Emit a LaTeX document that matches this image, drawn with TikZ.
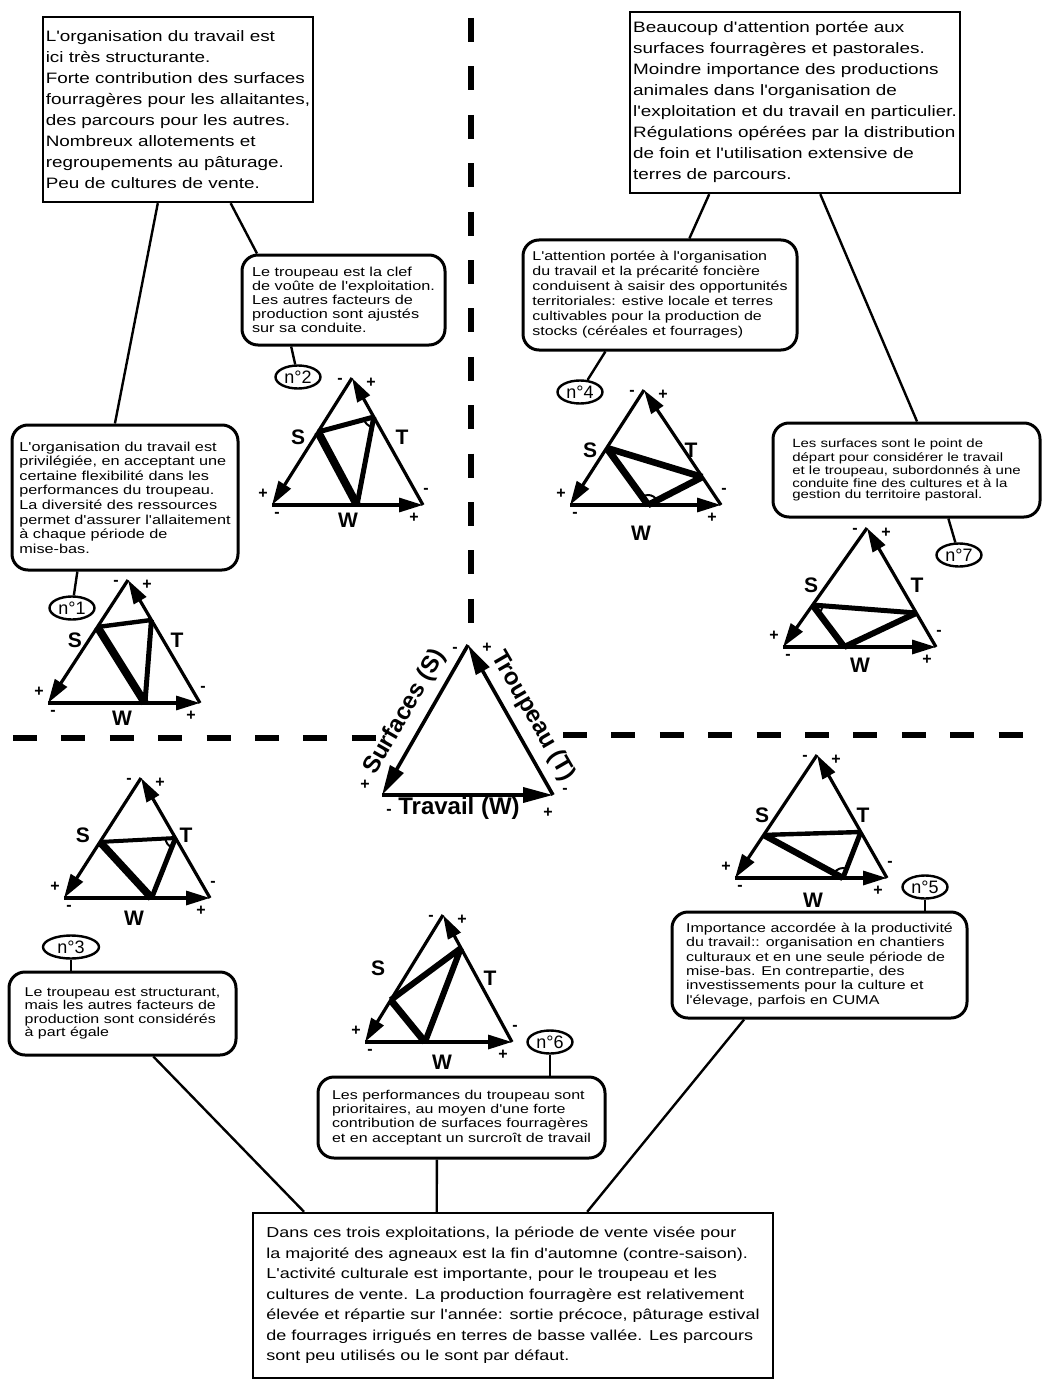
\documentclass[tikz,border=0pt]{standalone}
\usepackage{fontspec}
\setmainfont{Liberation Sans}
\newfontfamily\widefont[FakeStretch=1.25]{Liberation Sans}
\usetikzlibrary{arrows.meta,shapes.geometric,calc,angles,positioning}

% the six + and - marks round a small triangle number #1
\newcommand{\trisigns}[1]{%
  \node[sign] (am#1) at ([shift={(-12,3)}]A#1) {-};
  \node[sign] (ap#1) at ([shift={(19,5)}]A#1) {+};
  \node[sign] (lp#1) at ([shift={(-9,-11)}]L#1) {+};
  \node[sign] (lm#1) at ([shift={(5,10)}]L#1) {-};
  \node[sign] (rm#1) at ([shift={(3,-14)}]R#1) {-};
  \node[sign] (rp#1) at ([shift={(-9,13)}]R#1) {+};}

\begin{document}
\begin{tikzpicture}[x=0.5pt, y=-0.5pt,
    topbox/.style={draw, line width=1.2pt, align=left, inner sep=1.5pt,
      font=\widefont\fontsize{7.55}{10.5}\selectfont},
    bubble/.style={draw, line width=1.5pt, rounded corners=8pt, align=left,
      inner sep=2pt, font=\widefont\fontsize{6.5}{7.3}\selectfont},
    num/.style={draw, ellipse, line width=1.2pt, minimum width=22.5pt,
      minimum height=11.5pt, inner sep=0pt, font=\fontsize{9}{9}\selectfont},
    link/.style={line width=1.2pt},
    side/.style={line width=1.6pt, -{Triangle[length=12pt,width=7pt]}},
    bigside/.style={line width=1.8pt, -{Triangle[length=15pt,width=7.5pt]}},
    sign/.style={inner sep=0pt, font=\fontsize{8}{8}\selectfont\bfseries},
    lab/.style={inner sep=0pt, font=\fontsize{10.5}{10.5}\selectfont\bfseries},
    axislab/.style={inner sep=0pt, font=\fontsize{12}{12}\selectfont\bfseries},
    arc/.style={draw, line width=1pt, angle radius=5pt},
    divider/.style={line width=2.7pt, dash pattern=on 12pt off 12.2pt}]

\useasboundingbox (0,0) rectangle (1045,1380);

% dashed separations
\draw[divider] (471,18) -- (471,623);
\draw[divider] (13,738) -- (376,738);
\draw[divider] (563,735) -- (1023,735);

% boxes
\node[topbox, minimum width=135pt, minimum height=92.5pt] (topL) at (178,109.5)
  {L'organisation du travail est\\ici très structurante.\\Forte contribution des surfaces\\fourragères pour les allaitantes,\\des parcours pour les autres.\\Nombreux allotements et\\regroupements au pâturage.\\Peu de cultures de vente.};
\node[topbox, minimum width=165pt, minimum height=90.5pt] (topR) at (795,102.5)
  {Beaucoup d'attention portée aux\\surfaces fourragères et pastorales.\\Moindre importance des productions\\animales dans l'organisation de\\l'exploitation et du travail en particulier.\\Régulations opérées par la distribution\\de foin et l'utilisation extensive de\\terres de parcours.};
\node[bubble, minimum width=113pt, minimum height=72.5pt] (c1) at (125,497.5)
  {L'organisation du travail est\\privilégiée, en acceptant une\\certaine flexibilité dans les\\performances du troupeau.\\La diversité des ressources\\permet d'assurer l'allaitement\\à chaque période de\\mise-bas.};
\node[bubble, minimum width=101.5pt, minimum height=45pt,
  font=\widefont\fontsize{6.5}{7}\selectfont] (c2) at (343.5,300)
  {Le troupeau est la clef\\de voûte de l'exploitation.\\Les autres facteurs de\\production sont ajustés\\sur sa conduite.};
\node[bubble, minimum width=137pt, minimum height=55pt,
  font=\widefont\fontsize{6.4}{7.5}\selectfont] (c4) at (660,295)
  {L'attention portée à l'organisation\\du travail et la précarité foncière\\conduisent à saisir des opportunités\\territoriales: estive locale et  terres\\cultivables pour la production de\\stocks (céréales et fourrages)};
\node[bubble, minimum width=133.5pt, minimum height=47pt,
  font=\widefont\fontsize{6}{5.3}\selectfont] (c7) at (906.5,470)
  {Les surfaces sont le point de\\départ pour considérer le travail\\et le troupeau, subordonnés à une\\conduite fine des cultures et à la\\gestion du territoire pastoral.};
\node[bubble, minimum width=113.5pt, minimum height=41.5pt,
  font=\widefont\fontsize{6.4}{6.7}\selectfont] (c3) at (122.5,1013.5)
  {Le troupeau est structurant,\\mais les autres facteurs de\\production sont considérés\\à part égale};
\node[bubble, minimum width=143.5pt, minimum height=40.5pt,
  font=\widefont\fontsize{6.4}{7.15}\selectfont] (c6) at (461.5,1117.5)
  {Les performances du troupeau sont\\prioritaires, au moyen d'une forte\\contribution de surfaces fourragères\\et en acceptant un surcroît de travail};
\node[bubble, minimum width=147.5pt, minimum height=53pt,
  font=\widefont\fontsize{6.4}{7.2}\selectfont] (c5) at (819.5,965)
  {Importance accordée à la productivité\\du travail:: organisation en chantiers\\culturaux et en une seule période de\\mise-bas. En contrepartie, des\\investissements pour la culture et\\l'élevage, parfois en CUMA};
\node[topbox, inner sep=5pt, minimum width=260pt, minimum height=82.5pt,
  font=\widefont\fontsize{7.2}{10.25}\selectfont] (sum) at (513,1295.5)
  {Dans ces trois exploitations, la période de vente visée pour\\la majorité des agneaux est la fin d'automne (contre-saison).\\L'activité culturale est importante, pour le troupeau et les\\cultures de vente. La production fourragère est relativement\\élevée et répartie sur l'année: sortie précoce, pâturage estival\\de fourrages irrigués en terres de basse vallée. Les parcours\\sont peu utilisés ou le sont par défaut.};

% numbers
\node[num] (n1) at (72,608) {n°1};
\node[num] (n2) at (298,377) {n°2};
\node[num, minimum width=28pt] (n3) at (71,947) {n°3};
\node[num] (n4) at (580,392) {n°4};
\node[num] (n5) at (925,887) {n°5};
\node[num] (n6) at (550,1042) {n°6};
\node[num] (n7) at (959,555) {n°7};

% links
\draw[link] ($(topL.south west)!.426!(topL.south east)$) -- ($(c1.north west)!.456!(c1.north east)$);
\draw[link] ($(topL.south west)!.693!(topL.south east)$) -- ($(c2.north west)!.08!(c2.north east)$);
\draw[link] ($(c2.south west)!.246!(c2.south east)$) -- (n2);
\draw[link] ($(c1.south west)!.292!(c1.south east)$) -- (n1);
\draw[link] ($(topR.south west)!.242!(topR.south east)$) -- ($(c4.north west)!.606!(c4.north east)$);
\draw[link] ($(topR.south west)!.576!(topR.south east)$) -- ($(c7.north west)!.539!(c7.north east)$);
\draw[link] ($(c4.south west)!.303!(c4.south east)$) -- (n4);
\draw[link] ($(c7.south west)!.655!(c7.south east)$) -- (n7);
\draw[link] (n3) -- (n3 |- c3.north);
\draw[link] (n6) -- (n6 |- c6.north);
\draw[link] (n5) -- (n5 |- c5.north);
\draw[link] ($(c3.south west)!.634!(c3.south east)$) -- ($(sum.north west)!.1!(sum.north east)$);
\draw[link] ($(c6.south west)!.415!(c6.south east)$) -- ($(sum.north west)!.354!(sum.north east)$);
\draw[link] ($(c5.south west)!.247!(c5.south east)$) -- ($(sum.north west)!.642!(sum.north east)$);

% central triangle
\coordinate (A0) at (468,645);
\coordinate (L0) at (382,795);
\coordinate (R0) at (553,795);
\draw[bigside] (A0) -- (L0);
\draw[bigside] (L0) -- (R0);
\draw[bigside] (R0) -- (A0);
\node[axislab, rotate=60] (surf) at (405,712) {Surfaces (S)};
\node[axislab, rotate=-60] (troup) at (533,716) {Troupeau (T)};
\node[axislab] (trav) at (453,808) {{\fontsize{8}{8}\selectfont -} Travail (W)};
\node[sign] (am0) at (455,650) {-};
\node[sign] (ap0) at (487,648) {+};
\node[sign] (lp0) at (365,785) {+};
\node[sign] (rm0) at (565,791) {-};
\node[sign] (rp0) at (548,813) {+};

% n°1
\coordinate (A1) at (128,580);
\coordinate (L1) at (48,703);
\coordinate (R1) at (200,703);
\draw[side] (A1) -- (L1);
\draw[side] (L1) -- (R1);
\draw[side] (R1) -- (A1);
\coordinate (S1) at ($(A1)!.382!(L1)$);
\coordinate (T1) at ($(A1)!.325!(R1)$);
\coordinate (W1) at ($(L1)!.638!(R1)$);
\draw[line width=2.2pt] (S1) -- (T1);
\draw[line width=4pt] (S1) -- (W1);
\draw[line width=2.5pt] (T1) -- (W1);
\pic[arc] {angle=T1--W1--S1};
\node[lab] (s1) at (75,640) {S};
\node[lab] (t1) at (177,640) {T};
\node[lab] (w1) at (122,718) {W};
\trisigns{1}

% n°2
\coordinate (A2) at (352,378);
\coordinate (L2) at (272,505);
\coordinate (R2) at (423,505);
\draw[side] (A2) -- (L2);
\draw[side] (L2) -- (R2);
\draw[side] (R2) -- (A2);
\coordinate (S2) at ($(A2)!.425!(L2)$);
\coordinate (T2) at ($(A2)!.307!(R2)$);
\coordinate (W2) at ($(L2)!.563!(R2)$);
\draw[line width=2.5pt] (S2) -- (T2);
\draw[line width=4pt] (S2) -- (W2);
\draw[line width=2.5pt] (T2) -- (W2);
\pic[arc] {angle=S2--T2--W2};
\node[lab] (s2) at (298,437) {S};
\node[lab] (t2) at (402,437) {T};
\node[lab] (w2) at (348,520) {W};
\trisigns{2}

% n°3
\coordinate (A3) at (141,778);
\coordinate (L3) at (64,898);
\coordinate (R3) at (210,898);
\draw[side] (A3) -- (L3);
\draw[side] (L3) -- (R3);
\draw[side] (R3) -- (A3);
\coordinate (S3) at ($(A3)!.533!(L3)$);
\coordinate (T3) at ($(A3)!.5!(R3)$);
\coordinate (W3) at ($(L3)!.6!(R3)$);
\draw[line width=2pt] (S3) -- (T3);
\draw[line width=3.8pt] (S3) -- (W3);
\draw[line width=2.5pt] (T3) -- (W3);
\pic[arc] {angle=S3--T3--W3};
\node[lab] (s3) at (83,835) {S};
\node[lab] (t3) at (186,835) {T};
\node[lab] (w3) at (134,918) {W};
\trisigns{3}

% n°4
\coordinate (A4) at (644,390);
\coordinate (L4) at (570,505);
\coordinate (R4) at (721,505);
\draw[side] (A4) -- (L4);
\draw[side] (L4) -- (R4);
\draw[side] (R4) -- (A4);
\coordinate (S4) at ($(A4)!.504!(L4)$);
\coordinate (T4) at ($(A4)!.757!(R4)$);
\coordinate (W4) at ($(L4)!.517!(R4)$);
\draw[line width=3.3pt] (S4) -- (T4);
\draw[line width=3.5pt] (S4) -- (W4);
\draw[line width=3.3pt] (T4) -- (W4);
\pic[arc] {angle=T4--W4--S4};
\node[lab] (s4) at (590,450) {S};
\node[lab] (t4) at (691,450) {T};
\node[lab] (w4) at (641,533) {W};
\trisigns{4}

% n°5
\coordinate (A5) at (817,755);
\coordinate (L5) at (735,878);
\coordinate (R5) at (887,878);
\draw[side] (A5) -- (L5);
\draw[side] (L5) -- (R5);
\draw[side] (R5) -- (A5);
\coordinate (S5) at ($(A5)!.65!(L5)$);
\coordinate (T5) at ($(A5)!.626!(R5)$);
\coordinate (W5) at ($(L5)!.71!(R5)$);
\draw[line width=2.2pt] (S5) -- (T5);
\draw[line width=3.2pt] (S5) -- (W5);
\draw[line width=2.5pt] (T5) -- (W5);
\pic[arc] {angle=T5--W5--S5};
\node[lab] (s5) at (762,815) {S};
\node[lab] (t5) at (863,815) {T};
\node[lab] (w5) at (813,900) {W};
\trisigns{5}

% n°6
\coordinate (A6) at (443,915);
\coordinate (L6) at (365,1042);
\coordinate (R6) at (512,1042);
\draw[side] (A6) -- (L6);
\draw[side] (L6) -- (R6);
\draw[side] (R6) -- (A6);
\coordinate (S6) at ($(A6)!.67!(L6)$);
\coordinate (T6) at ($(A6)!.26!(R6)$);
\coordinate (W6) at ($(L6)!.408!(R6)$);
\draw[line width=3pt] (S6) -- (T6);
\draw[line width=3.5pt] (S6) -- (W6);
\draw[line width=3pt] (T6) -- (W6);
\pic[arc] {angle=S6--T6--W6};
\node[lab] (s6) at (378,968) {S};
\node[lab] (t6) at (490,978) {T};
\node[lab] (w6) at (442,1062) {W};
\trisigns{6}

% n°7
\coordinate (A7) at (867,528);
\coordinate (L7) at (783,647);
\coordinate (R7) at (936,647);
\draw[side] (A7) -- (L7);
\draw[side] (L7) -- (R7);
\draw[side] (R7) -- (A7);
\coordinate (S7) at ($(A7)!.647!(L7)$);
\coordinate (T7) at ($(A7)!.714!(R7)$);
\coordinate (W7) at ($(L7)!.4!(R7)$);
\draw[line width=2.5pt] (S7) -- (T7);
\draw[line width=3.3pt] (S7) -- (W7);
\draw[line width=3pt] (T7) -- (W7);
\pic[arc] {angle=W7--S7--T7};
\node[lab] (s7) at (811,585) {S};
\node[lab] (t7) at (917,585) {T};
\node[lab] (w7) at (860,665) {W};
\trisigns{7}

\end{tikzpicture}
\end{document}
